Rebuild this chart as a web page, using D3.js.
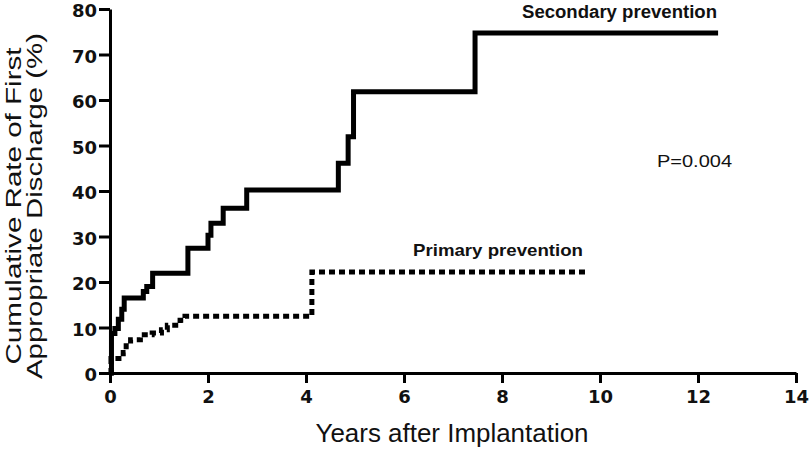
<!DOCTYPE html>
<html><head><meta charset="utf-8">
<script src="https://cdn.jsdelivr.net/npm/d3@7"></script>
<style>body{margin:0;background:#fff}svg{display:block}</style>
</head><body><svg id="c" width="812" height="450"></svg>
<script>
const xTicks = [0, 2, 4, 6, 8, 10, 12, 14];
const yTicks = [0, 10, 20, 30, 40, 50, 60, 70, 80];
// Secondary prevention: event times (years) and cumulative rate (%)
const secTimes  = [0, 0.03, 0.1, 0.17, 0.24, 0.29, 0.68, 0.75, 0.87, 1.59, 2.0, 2.06, 2.31, 2.79, 4.66, 4.86, 4.97, 7.45, 12.41];
const secValues = [0, 8.7, 9.8, 11.8, 14, 16.5, 17.9, 19, 21.9, 27.4, 30.3, 32.9, 36.2, 40.2, 46.1, 51.9, 61.8, 74.7, 74.7];
// Primary prevention
const priTimes  = [0, 0.02, 0.27, 0.33, 0.42, 0.62, 0.86, 1.05, 1.17, 1.43, 1.53, 4.12, 9.7];
const priValues = [0, 3.2, 4.5, 6, 7.3, 8.4, 8.8, 9.5, 10.5, 11.6, 12.5, 22.2, 22.2];
const seriesNames = ["Secondary prevention", "Primary prevention"];
const pText = "P=0.004";
const xTitle = "Years after Implantation";
const yTitle = ["Cumulative Rate of First", "Appropriate Discharge (%)"];

const svg = d3.select("#c");
const x = d3.scaleLinear().domain([0, 14]).range([110, 796]);
const y = d3.scaleLinear().domain([0, 80]).range([373, 9]);
const font = "'Liberation Sans', Arial, sans-serif";
const tickFont = "'DejaVu Sans', sans-serif";

const xAxis = svg.append("g").attr("transform", "translate(0,373)")
  .call(d3.axisBottom(x).tickValues(xTicks).tickSize(10).tickSizeOuter(0));
const yAxis = svg.append("g").attr("transform", "translate(110,0)")
  .call(d3.axisLeft(y).tickValues(yTicks).tickSize(11).tickSizeOuter(0).tickPadding(2));
[xAxis, yAxis].forEach(a => {
  a.select(".domain").attr("stroke", "#000").attr("stroke-width", 3);
  a.selectAll(".tick line").attr("stroke", "#000").attr("stroke-width", 3);
  a.selectAll(".tick text").attr("fill", "#111").style("font-family", tickFont)
    .style("font-size", "18px").style("font-weight", "bold");
});
xAxis.selectAll(".tick text").attr("y", 30).attr("dy", 0);
yAxis.selectAll(".tick text").attr("dy", "0.42em");

const line = d3.line().x(d => x(d[0])).y(d => y(d[1])).curve(d3.curveStepAfter);
const sec = secTimes.map((t, i) => [t, secValues[i]]);
const pri = priTimes.map((t, i) => [t, priValues[i]]);

svg.append("path").datum(sec).attr("d", line).attr("fill", "none")
  .attr("stroke", "#000").attr("stroke-width", 5).attr("stroke-linejoin", "miter");
svg.append("path").datum(pri).attr("d", line).attr("fill", "none")
  .attr("stroke", "#000").attr("stroke-width", 5).attr("stroke-dasharray", "6,4");

function label(txt, cx, by, size, weight, len) {
  svg.append("text").attr("x", cx).attr("y", by).attr("text-anchor", "middle")
    .style("font-family", font).style("font-size", size + "px").style("font-weight", weight)
    .attr("fill", "#111").attr("textLength", len).attr("lengthAdjust", "spacingAndGlyphs")
    .text(txt);
}
label(seriesNames[0], 619.5, 18, 18, "bold", 195);
label(seriesNames[1], 498, 256, 17, "bold", 170);
label(pText, 694.5, 167, 17, "normal", 75);
label(xTitle, 452, 442, 25, "normal", 273);

const yt = svg.append("text").attr("transform", "translate(21,206) rotate(-90)")
  .attr("text-anchor", "middle").style("font-family", font).style("font-size", "22px").attr("fill", "#111");
yt.append("tspan").attr("x", 0).attr("y", 0).attr("textLength", 317).attr("lengthAdjust", "spacingAndGlyphs").text(yTitle[0]);
yt.append("tspan").attr("x", 0).attr("y", 21).attr("textLength", 346).attr("lengthAdjust", "spacingAndGlyphs").text(yTitle[1]);
</script></body></html>
